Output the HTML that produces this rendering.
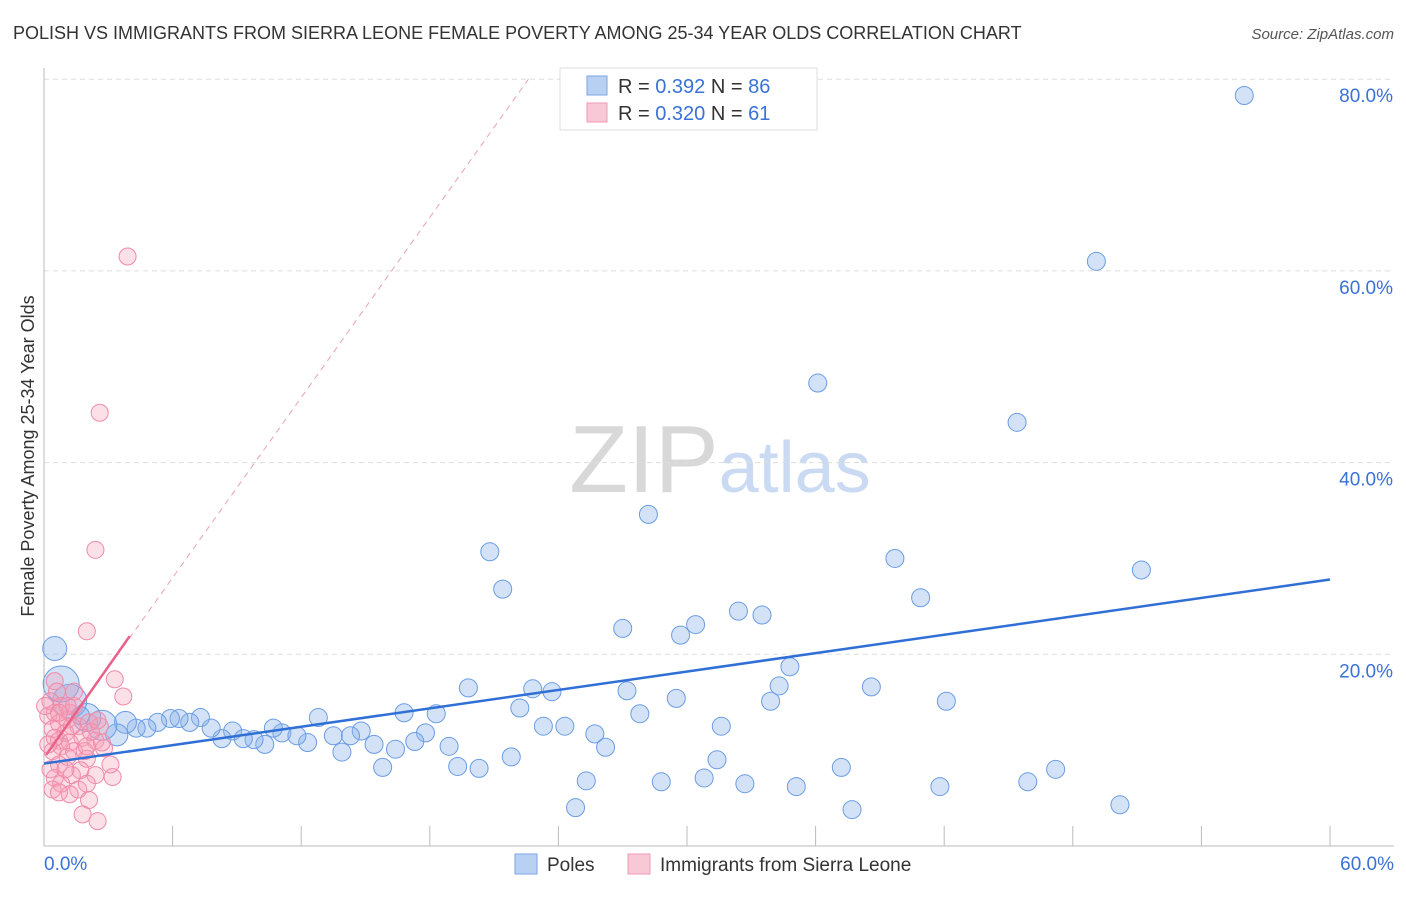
<!DOCTYPE html>
<html><head><meta charset="utf-8"><style>
body{margin:0;background:#fff;font-family:"Liberation Sans",sans-serif;}
svg text{font-family:"Liberation Sans",sans-serif;}
</style></head><body>
<svg id="chart" width="1406" height="892" xmlns="http://www.w3.org/2000/svg">
<text x="13" y="39" font-size="18" fill="#333">POLISH VS IMMIGRANTS FROM SIERRA LEONE FEMALE POVERTY AMONG 25-34 YEAR OLDS CORRELATION CHART</text>
<text x="1394" y="39" font-size="15" fill="#555" text-anchor="end" font-style="italic">Source: ZipAtlas.com</text>
<text transform="translate(34,456) rotate(-90)" font-size="18" fill="#333" text-anchor="middle">Female Poverty Among 25-34 Year Olds</text>
<text x="720" y="492" font-size="96" text-anchor="middle" fill="#ddd" font-family="Liberation Serif"><tspan fill="#d8d8d8">ZIP</tspan><tspan fill="#c9daf2" font-family="Liberation Sans" font-size="72">atlas</tspan></text>
<g id="grid"></g><g id="axes"></g><g id="pts"></g><g id="lines"></g>
<g>
<rect x="560" y="68" width="257" height="62" fill="#fff" stroke="#ddd"/>
<rect x="587" y="76" width="20" height="19" fill="#b8d1f3" stroke="#7aa6e6"/>
<rect x="587" y="103" width="20" height="19" fill="#f9c8d6" stroke="#f09ab4"/>
<text x="618" y="93" font-size="20" fill="#333">R = <tspan fill="#3a72d6">0.392</tspan>   N = <tspan fill="#3a72d6">86</tspan></text>
<text x="618" y="120" font-size="20" fill="#333">R = <tspan fill="#3a72d6">0.320</tspan>   N = <tspan fill="#3a72d6"> 61</tspan></text>
</g>
<g>
<rect x="515" y="854" width="22" height="20" fill="#b8d1f3" stroke="#7aa6e6"/>
<text x="547" y="871" font-size="19" fill="#333">Poles</text>
<rect x="628" y="854" width="22" height="20" fill="#f9c8d6" stroke="#f09ab4"/>
<text x="660" y="871" font-size="19" fill="#333">Immigrants from Sierra Leone</text>
</g>
</svg>
<script>
const yTicks=[20,40,60,80];
const xTickLabels=["0.0%","60.0%"];
const polesX=[56.0,49.1,36.1,45.4,28.2,20.8,39.7,21.4,51.2,40.9,27.0,32.4,33.5,30.4,29.7,34.8,19.8,22.8,23.7,27.2,29.5,34.3,38.6,42.1,33.9,22.2,27.8,16.8,18.3,12.8,31.6,23.3,24.3,25.7,17.8,14.8,13.5,14.3,18.9,26.2,17.3,15.4,16.4,12.3,13.9,21.8,19.3,20.3,15.8,31.4,37.2,30.8,28.8,32.7,25.3,35.1,41.8,45.9,47.2,24.8,37.7,50.2,10.3,11.1,11.8,10.7,9.8,8.8,9.3,8.3,7.8,7.3,6.8,6.3,5.9,5.3,4.8,4.3,3.8,3.4,2.7,2.0,1.2,0.8,0.5,1.7];
const polesY=[78.3,61.0,48.3,44.2,34.6,30.7,30.0,26.8,28.8,25.9,22.7,24.5,24.1,23.1,22.0,18.7,16.5,16.4,16.1,16.2,15.4,16.7,16.6,15.1,15.1,14.4,13.8,13.9,13.8,13.4,12.5,12.5,12.5,11.7,11.8,12.0,11.5,11.5,10.4,10.3,10.9,10.6,10.1,10.8,9.8,9.3,8.3,8.1,8.2,9.0,8.2,7.1,6.7,6.5,6.8,6.2,6.2,6.7,8.0,4.0,3.8,4.3,10.6,11.8,11.5,12.3,11.1,12.0,11.2,11.2,12.3,13.4,12.9,13.3,13.3,12.9,12.3,12.3,12.9,11.6,12.6,13.4,15.1,16.9,20.6,13.6];
const polesR=[9,9,9,9,9,9,9,9,9,9,9,9,9,9,9,9,9,9,9,9,9,9,9,9,9,9,9,9,9,9,9,9,9,9,9,9,9,9,9,9,9,9,9,9,9,9,9,9,9,9,9,9,9,9,9,9,9,9,9,9,9,9,9,9,9,9,9,9,9,9,9,9,9,9,9,9,9,9,11,11,15,14,17,18,12];
const sierraX=[3.9,2.6,2.4,2.0,3.3,3.7,0.5,0.6,0.3,0.8,0.2,0.5,1.2,1.4,1.1,0.7,0.4,1.6,1.0,2.1,2.6,0.7,1.2,1.8,2.4,0.8,1.4,2.8,0.4,1.1,2.0,0.7,1.7,0.5,1.3,2.4,3.2,0.8,1.6,2.0,0.4,1.2,0.7,2.1,1.8,2.5,0.2,0.3,1.9,1.0,2.7,2.2,2.5,1.4,1.1,0.5,2.0,0.7,1.3,0.05,3.1];
const sierraY=[61.5,45.2,30.9,22.4,17.4,15.6,17.2,16.1,15.1,14.6,13.6,13.9,13.9,14.6,13.2,12.8,12.2,12.5,11.8,12.9,12.5,11.0,10.8,11.3,11.0,10.4,9.9,10.2,9.9,9.3,9.1,8.5,7.9,7.1,7.4,7.4,7.2,6.5,5.9,6.5,5.9,5.4,5.6,4.8,3.3,2.6,10.6,8.0,9.9,8.0,10.8,11.9,13.1,16.1,14.6,11.3,10.4,13.9,12.5,14.6,8.5];
const bluePts=[0,8.6,60,27.8];
const pinkSolid=[0.1,9.5,4.0,21.9];
const pinkDash=[0.1,9.5,22.6,80];
const X0=44,X1=1330,Y0=846,PY=191.7/20;
const sx=v=>X0+(v/60)*(X1-X0), sy=v=>Y0-v*PY;
const NS="http://www.w3.org/2000/svg";
function mk(tag,attrs,parent){const e=document.createElementNS(NS,tag);for(const k in attrs)e.setAttribute(k,attrs[k]);parent.appendChild(e);return e;}
const grid=document.getElementById('grid'),axes=document.getElementById('axes'),pts=document.getElementById('pts'),lines=document.getElementById('lines');
yTicks.forEach(t=>{
 const l=mk('line',{x1:X0,x2:1394,y1:sy(t),y2:sy(t),stroke:'#ddd','stroke-dasharray':'5,4'},grid);
 
 
 const tx=mk('text',{x:1393,y:sy(t)+23,'font-size':19,fill:'#3a72d6','text-anchor':'end'},axes);
 tx.textContent=t.toFixed(1)+'%';
 
 
});
const ax=mk('line',{x1:X0,x2:X0,y1:68,y2:Y0,stroke:'#bbb'},axes);


const bx=mk('line',{x1:X0,x2:1394,y1:Y0,y2:Y0,stroke:'#bbb'},axes);


for(let i=0;i<=10;i++){
 const tk=mk('line',{x1:sx(i*6),x2:sx(i*6),y1:826,y2:Y0,stroke:'#bbb'},axes);
 
 
}
const xl0=mk('text',{x:44,y:870,'font-size':19,fill:'#3a72d6'},axes);xl0.textContent=xTickLabels[0];


const xl1=mk('text',{x:1394,y:870,'font-size':19,fill:'#3a72d6','text-anchor':'end'},axes);xl1.textContent=xTickLabels[1];


polesX.forEach((x,i)=>{
 const c=mk('circle',{cx:sx(x),cy:sy(polesY[i]),r:polesR[i]||9,fill:'rgba(140,180,235,0.38)',stroke:'#6b9de3','stroke-width':1},pts);
 
 
});
sierraX.forEach((x,i)=>{
 const c=mk('circle',{cx:sx(x),cy:sy(sierraY[i]),r:8.5,fill:'rgba(245,160,185,0.32)',stroke:'#f08aa8','stroke-width':1},pts);
 
 
});
const pd=mk('line',{x1:sx(pinkDash[0]),y1:sy(pinkDash[1]),x2:sx(pinkDash[2]),y2:sy(pinkDash[3]),stroke:'#eaa0b6','stroke-width':1,'stroke-dasharray':'6,5'},lines);


const ps=mk('line',{x1:sx(pinkSolid[0]),y1:sy(pinkSolid[1]),x2:sx(pinkSolid[2]),y2:sy(pinkSolid[3]),stroke:'#e8628a','stroke-width':2.5},lines);


const bl=mk('line',{x1:sx(bluePts[0]),y1:sy(bluePts[1]),x2:sx(bluePts[2]),y2:sy(bluePts[3]),stroke:'#2f6fd6','stroke-width':2.5},lines);


</script>
</body></html>
